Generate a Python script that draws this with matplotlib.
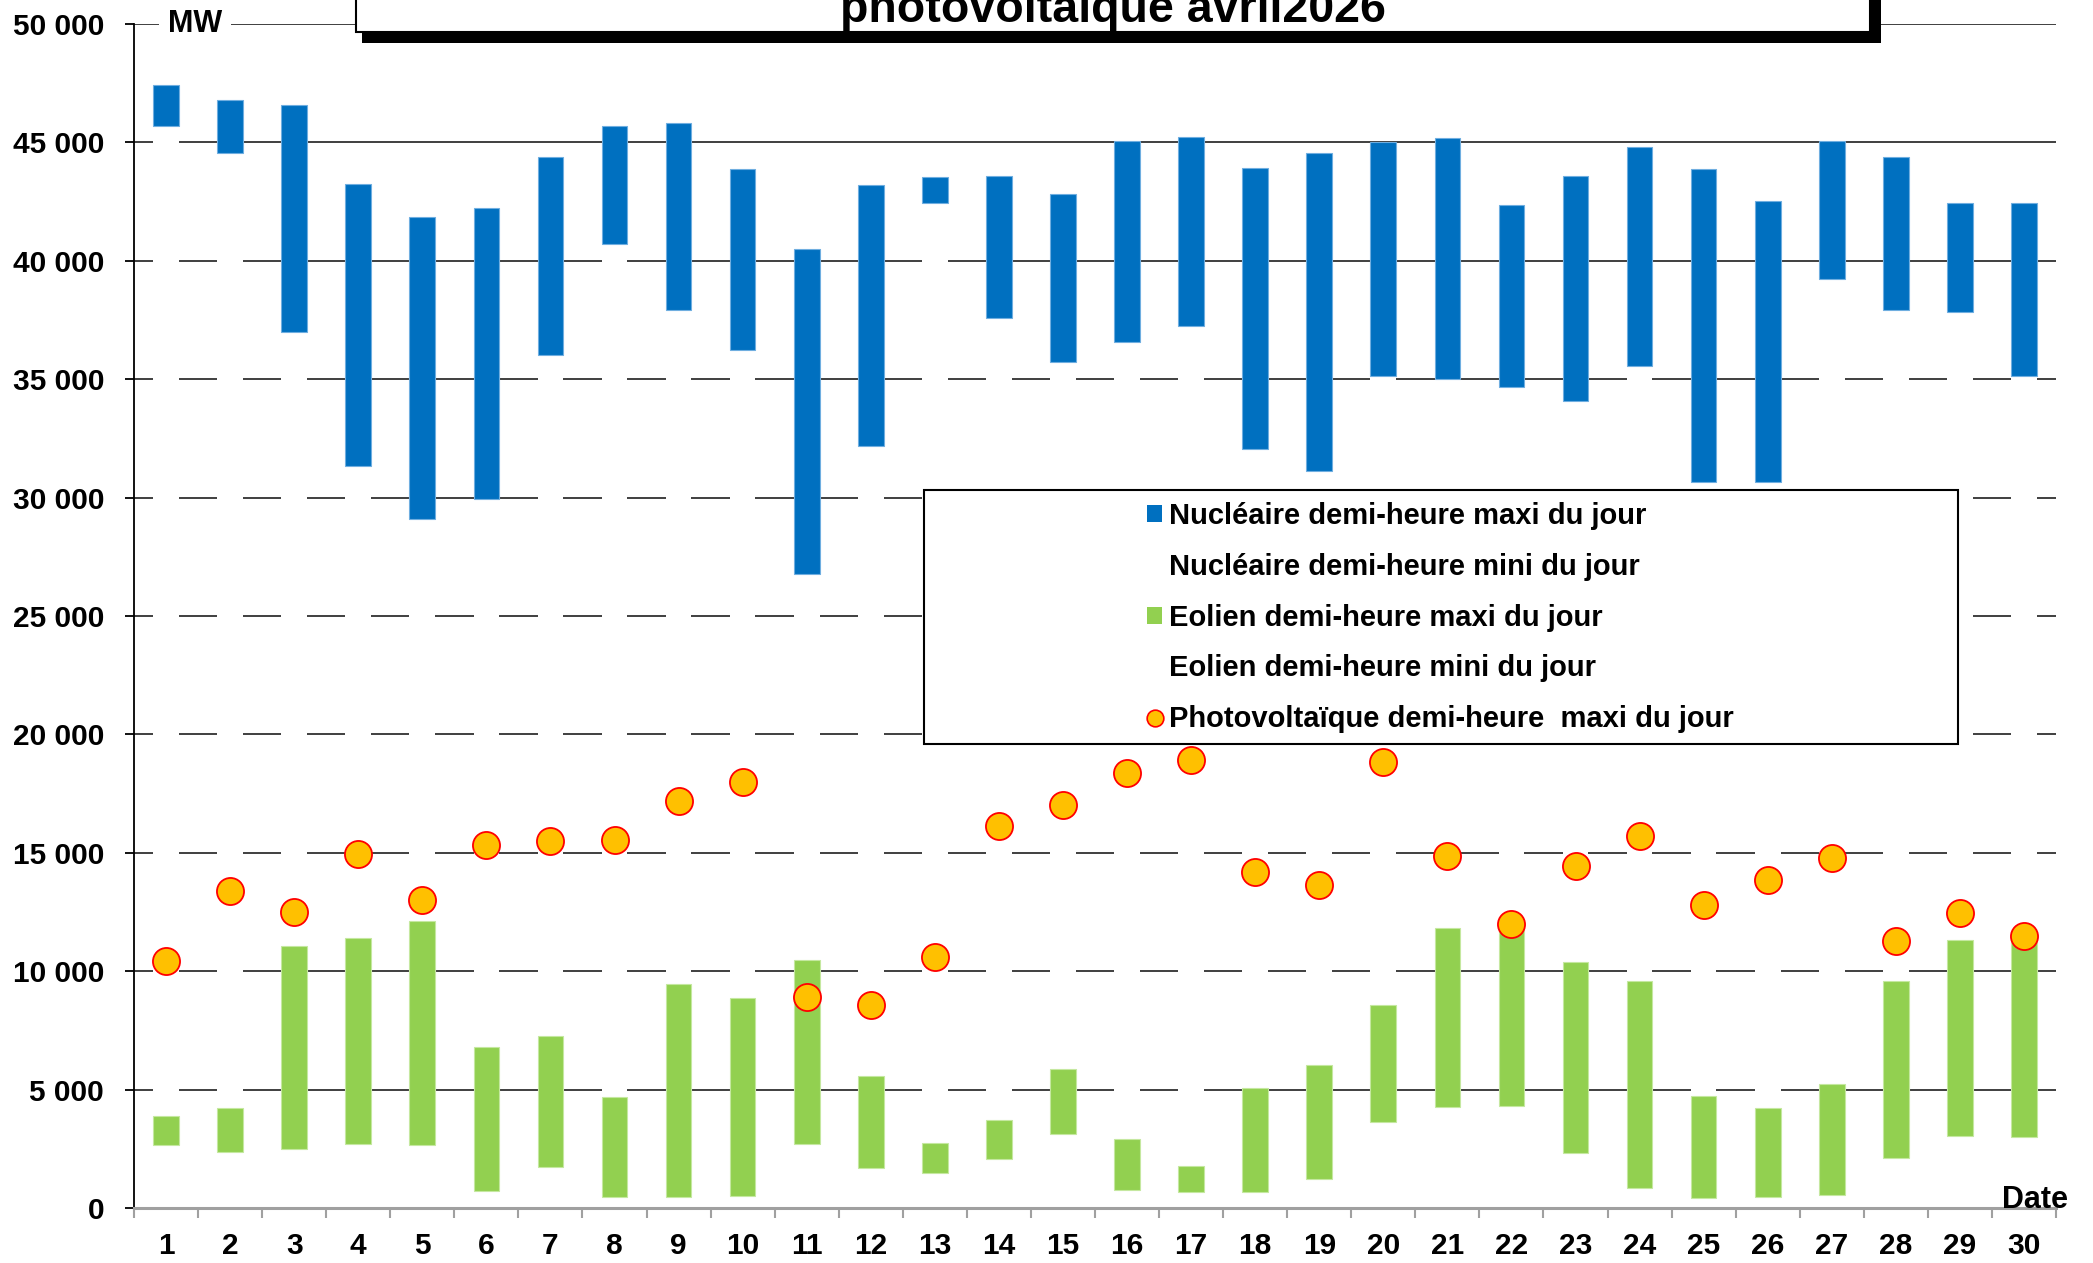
import matplotlib
matplotlib.use("Agg")
import matplotlib.pyplot as plt
from matplotlib.patches import Rectangle, Patch
from matplotlib.lines import Line2D
from matplotlib.ticker import FixedLocator

plt.rcParams['font.family'] = ['Liberation Sans', 'DejaVu Sans']
plt.rcParams['font.weight'] = 'bold'

# Daily values, April 2026 (MW)
days = list(range(1, 31))
day_labels = [str(d) for d in days]

nuc_max = [47440, 46780, 46580, 43240, 41840, 42230, 44370, 45700, 45840, 43865,
           40490, 43210, 43540, 43570, 42840, 45080, 45210, 43940, 44570, 45000,
           45200, 42370, 43570, 44790, 43890, 42510, 45040, 44380, 42420, 42440]
nuc_min = [45710, 44550, 36980, 31340, 29090, 29930, 36020, 40730, 37940, 36250,
           26780, 32190, 42430, 37600, 35740, 36580, 37260, 32070, 31120, 35120,
           35010, 34670, 34100, 35570, 30670, 30670, 39220, 37940, 37820, 35120]

eol_max = [3885, 4240, 11050, 11390, 12120, 6820, 7270, 4680, 9470, 8850,
           10480, 5580, 2732, 3733, 5860, 2930, 1790, 5070, 6030, 8570,
           11840, 11950, 10370, 9580, 4740, 4210, 5240, 9580, 11330, 11250]
eol_min = [2677, 2352, 2508, 2703, 2647, 718, 1719, 452, 481, 524,
           2703, 1706, 1478, 2057, 3125, 760, 676, 676, 1241, 3632,
           4282, 4307, 2310, 862, 422, 481, 549, 2112, 3028, 2986]

pv_max = [10420, 13370, 12500, 14940, 13020, 15330, 15500, 15560, 17190, 17980,
          8910, 8570, 10600, 16120, 17020, 18380, 18940, 14200, 13640, 18830,
          14880, 12010, 14430, 15730, 12800, 13870, 14770, 11270, 12460, 11500]

y_ticks = [0, 5000, 10000, 15000, 20000, 25000, 30000, 35000, 40000, 45000, 50000]
y_tick_labels = ["0", "5 000", "10 000", "15 000", "20 000", "25 000",
                 "30 000", "35 000", "40 000", "45 000", "50 000"]

labels = ["Nucléaire demi-heure maxi du jour",
          "Nucléaire demi-heure mini du jour",
          "Eolien demi-heure maxi du jour",
          "Eolien demi-heure mini du jour",
          "Photovoltaïque demi-heure  maxi du jour"]
title_line = "photovoltaïque avril2026"

BLUE = "#0070C0"
GREEN = "#92D050"
GOLD = "#FFC000"

W, H = 2093, 1263
fig = plt.figure(figsize=(W / 100, H / 100), dpi=100)
fig.patch.set_facecolor("white")


def fx(px):
    return px / W


def fy(py_top):
    return (H - py_top) / H


ax = fig.add_axes([fx(134), fy(1208), fx(2056) - fx(134), fy(24) - fy(1208)])
ax.set_xlim(0.5, 30.5)
ax.set_ylim(0, 50000)

# gridlines (white base bars hide them where they pass behind)
for v in y_ticks[1:]:
    ax.axhline(v, color="#303030", lw=1.3, zorder=0.5)

bw = 0.40
nuc_diff = [a - b for a, b in zip(nuc_max, nuc_min)]
eol_diff = [a - b for a, b in zip(eol_max, eol_min)]

ax.bar(days, nuc_min, width=bw, color="white", zorder=1)
ax.bar(days, nuc_diff, bottom=nuc_min, width=bw, color=BLUE,
       edgecolor="#6FAEE0", lw=0.8, zorder=1)
ax.bar(days, eol_min, width=bw, color="white", zorder=2)
ax.bar(days, eol_diff, bottom=eol_min, width=bw, color=GREEN,
       edgecolor="#C5E8A0", lw=0.8, zorder=2)
ax.plot(days, pv_max, ls="none", marker="o", ms=19.5, mfc=GOLD,
        mec="#FF0000", mew=1.3, zorder=3)

# axes styling
for s in ("top", "right"):
    ax.spines[s].set_visible(False)
ax.spines["left"].set_color("black")
ax.spines["left"].set_linewidth(1.3)
ax.spines["bottom"].set_color("#A0A0A0")
ax.spines["bottom"].set_linewidth(2.2)
ax.spines["bottom"].set_zorder(4)

ax.set_yticks(y_ticks)
ax.set_yticklabels(y_tick_labels, fontsize=21.5, fontweight="bold")
ax.tick_params(axis="y", length=6.5, width=1.3, color="black", pad=15)

ax.set_xticks(days)
ax.set_xticklabels(day_labels, fontsize=21.5, fontweight="bold")
ax.tick_params(axis="x", which="major", length=0, pad=17.5)
ax.xaxis.set_minor_locator(FixedLocator([d + 0.5 for d in range(0, 31)]))
ax.tick_params(axis="x", which="minor", length=7.2, width=1.5, color="#A0A0A0")

# unit and axis name
fig.text(fx(195), fy(32), "MW", ha="center", va="baseline", fontsize=22,
         fontweight="bold", bbox=dict(boxstyle="square,pad=0.3", fc="white", ec="none"))
fig.text(fx(2002), fy(1208), "Date", ha="left", va="baseline", fontsize=22,
         fontweight="bold")

# title box with drop shadow
fig.add_artist(Rectangle((fx(362), fy(43)), fx(1881) - fx(362), 0.2,
                         transform=fig.transFigure, fc="black", ec="none", zorder=5))
fig.add_artist(Rectangle((fx(356), fy(32)), fx(1870) - fx(356), 0.2,
                         transform=fig.transFigure, fc="white", ec="black", lw=1.5, zorder=6))
fig.text(fx(1113), fy(21.7), title_line, ha="center", va="baseline", fontsize=33.5,
         fontweight="bold", zorder=7)

# legend
ax.add_patch(Rectangle((fx(924), fy(744)), fx(1958) - fx(924), fy(490) - fy(744),
                       transform=fig.transFigure, fc="white", ec="black", lw=1.5,
                       zorder=6, clip_on=False))
handles = [Patch(fc=BLUE, ec="none"), Patch(fc="white", ec="none"),
           Patch(fc=GREEN, ec="none"), Patch(fc="white", ec="none"),
           Line2D([], [], ls="none", marker="o", ms=12, mfc=GOLD, mec="#FF0000", mew=1.2)]
leg = ax.legend(handles, labels, loc="upper left",
                bbox_to_anchor=(fx(1147), fy(502)), bbox_transform=fig.transFigure,
                frameon=False, prop={"weight": "bold", "size": 21},
                borderpad=0, borderaxespad=0, labelspacing=0.78,
                handlelength=0.52, handleheight=0.52, handletextpad=0.24)
leg.set_zorder(7)

fig.savefig("out.png", dpi=100)
